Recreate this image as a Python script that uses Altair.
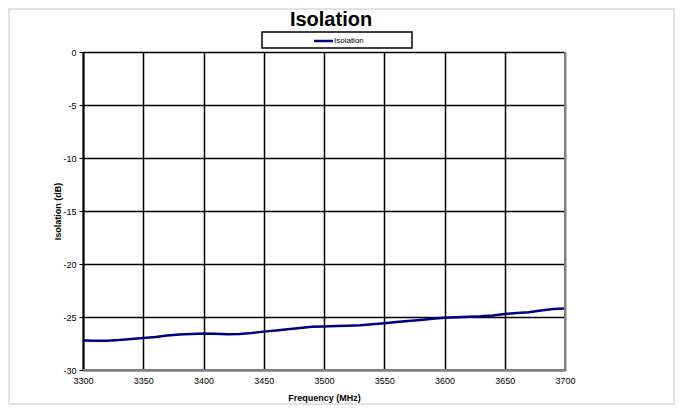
import altair as alt
import pandas as pd

# ---- data ----
freq_mhz = [3300, 3310, 3320, 3330, 3340, 3350, 3360, 3370, 3380, 3390,
            3400, 3410, 3420, 3430, 3440, 3450, 3460, 3470, 3480, 3490,
            3500, 3510, 3520, 3530, 3540, 3550, 3560, 3570, 3580, 3590,
            3600, 3610, 3620, 3630, 3640, 3650, 3660, 3670, 3680, 3690, 3700]
isolation_db = [-27.22, -27.25, -27.25, -27.18, -27.08, -26.98, -26.88, -26.75, -26.65, -26.60,
                -26.55, -26.57, -26.62, -26.60, -26.52, -26.38, -26.28, -26.15, -26.03, -25.93,
                -25.90, -25.85, -25.82, -25.78, -25.68, -25.58, -25.48, -25.38, -25.28, -25.16,
                -25.06, -25.02, -24.97, -24.93, -24.85, -24.72, -24.63, -24.55, -24.38, -24.24, -24.20]
series_name = ["Isolation"]
x_ticks = [3300, 3350, 3400, 3450, 3500, 3550, 3600, 3650, 3700]
y_ticks = [-30, -25, -20, -15, -10, -5, 0]
chart_title = ["Isolation"]

W, H = 482, 318
FONT = "Liberation Sans, Arial, sans-serif"
NAVY = "#000080"

df = pd.DataFrame({"freq": freq_mhz, "iso": isolation_db, "series": series_name[0]})
one = pd.DataFrame({"series": series_name, "title": chart_title})

xscale = alt.Scale(domain=[x_ticks[0], x_ticks[-1]], nice=False, zero=False)
yscale = alt.Scale(domain=[y_ticks[0], y_ticks[-1]], nice=False, zero=False)

line = alt.Chart(df).mark_line(strokeWidth=2.5, color=NAVY).encode(
    x=alt.X("freq:Q", scale=xscale,
            axis=alt.Axis(values=x_ticks, title="Frequency (MHz)", grid=True,
                          labelExpr="datum.value + ''", labelFlush=False,
                          gridColor="#000000", gridWidth=1.5, gridOpacity=1,
                          domainColor="#808080", domainWidth=2,
                          ticks=False, tickSize=0, labelPadding=6,
                          labelFont=FONT, labelFontSize=9, labelColor="#000000",
                          titleFont=FONT, titleFontSize=9, titleFontWeight="bold",
                          titleColor="#000000", titleY=27, titleBaseline="middle")),
    y=alt.Y("iso:Q", scale=yscale,
            axis=alt.Axis(values=y_ticks, title="Isolation (dB)", grid=True,
                          labelExpr="datum.value + ''", labelFlush=False,
                          gridColor="#000000", gridWidth=1.5, gridOpacity=1,
                          domainColor="#000000", domainWidth=2,
                          ticks=True, tickSize=4, tickColor="#000000", tickWidth=1,
                          labelPadding=3,
                          labelFont=FONT, labelFontSize=9, labelColor="#000000",
                          titleFont=FONT, titleFontSize=9, titleFontWeight="bold",
                          titleColor="#000000", titleX=-26, titleY=H / 2,
                          titleAngle=270, titleAlign="center", titleBaseline="middle")),
)

# right and bottom gray border
right_border = alt.Chart(one).mark_rule(color="#808080", strokeWidth=2).encode(
    x=alt.value(W), y=alt.value(0), y2=alt.value(H))
bottom_border = alt.Chart(one).mark_rule(color="#808080", strokeWidth=2).encode(
    x=alt.value(0), x2=alt.value(W), y=alt.value(H))

# title
title = alt.Chart(one).mark_text(font=FONT, fontSize=20, fontWeight="bold",
                                 color="#000000", align="center", baseline="alphabetic").encode(
    text="title:N", x=alt.value(248), y=alt.value(-26))

# legend box
legend_box = alt.Chart(one).mark_rect(fill="white", stroke="#000000", strokeWidth=1.5).encode(
    x=alt.value(179), x2=alt.value(329), y=alt.value(-20), y2=alt.value(-4))
legend_line = alt.Chart(one).mark_rule(color=NAVY, strokeWidth=2.5).encode(
    x=alt.value(231), x2=alt.value(250), y=alt.value(-11))
legend_text = alt.Chart(one).mark_text(font=FONT, fontSize=8, color="#000000",
                                       align="left", baseline="middle").encode(
    text="series:N", x=alt.value(251), y=alt.value(-11))

# outer light frame
frame = alt.Chart(one).mark_rect(fill="transparent", stroke="#d9d9d9", strokeWidth=1.5).encode(
    x=alt.value(-74), x2=alt.value(591), y=alt.value(-43), y2=alt.value(352))

chart = alt.layer(
    frame, line, right_border, bottom_border, title, legend_box, legend_line, legend_text
).properties(
    width=W, height=H,
    autosize=alt.AutoSizeParams(type="none"),
    padding={"left": 75, "top": 44, "right": 110, "bottom": 35},
    background="white",
).configure_view(strokeWidth=0)

chart.save("out.html", embed_options={"renderer": "svg", "actions": False})
